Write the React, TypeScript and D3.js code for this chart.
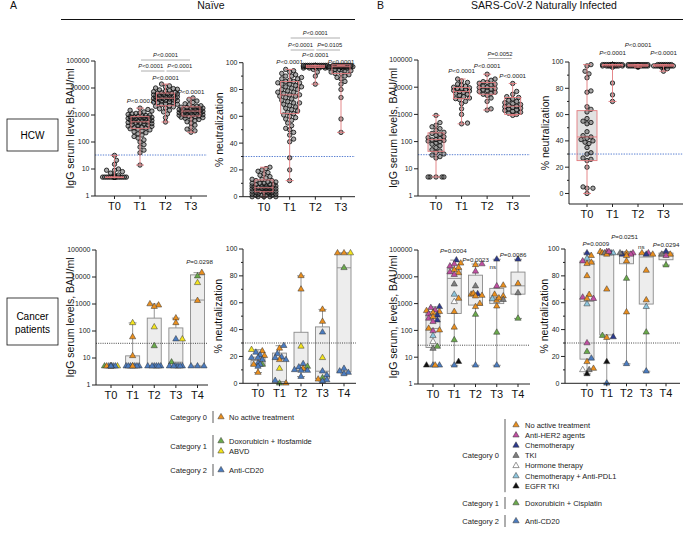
import React from 'react'
import * as d3 from 'd3'

const FONT = '"Liberation Sans", Arial, Helvetica, sans-serif'

const times4 = ['T0', 'T1', 'T2', 'T3']
const times5 = ['T0', 'T1', 'T2', 'T3', 'T4']

// ---- HCW, naive: IgG (BAU/ml)
const naiveIggT0 = [
  5, 5, 5, 5, 5, 5, 5, 5, 5, 5, 5, 5, 5, 5, 5, 5, 5, 5, 5, 5,
  5, 5, 5, 5, 5, 5, 5, 5, 5, 5, 5, 5, 5, 5, 5, 5, 5, 5, 5, 5,
  6, 6, 7, 8, 9, 9, 10, 15, 21, 32,
]
const naiveIggT1 = [
  14, 40, 50, 65, 80, 100, 120, 140, 160, 180, 200, 220, 240, 260, 280, 300, 310, 330, 340, 360,
  380, 390, 410, 430, 440, 460, 480, 500, 510, 530, 550, 560, 580, 600, 620, 640, 660, 680, 700, 710,
  730, 750, 770, 790, 800, 820, 840, 860, 880, 900, 930, 960, 1000, 1050, 1100, 1150, 1200, 1300, 1400, 1500,
  1600, 1800,
]
const naiveIggT2 = [
  550, 800, 1100, 1300, 1500, 1700, 1800, 2000, 2100, 2200, 2400, 2500, 2600, 2800, 2900, 3000, 3100, 3300, 3400, 3500,
  3600, 3700, 3800, 3900, 4000, 4100, 4200, 4300, 4400, 4500, 4600, 4700, 4800, 5000, 5100, 5300, 5400, 5600, 5800, 6000,
  6200, 6400, 6500, 6700, 7000, 7300, 7600, 8000, 8500, 9000, 9500, 10000, 11000, 12000, 14000,
]
const naiveIggT3 = [
  230, 260, 300, 350, 420, 500, 560, 620, 680, 720, 760, 800, 830, 860, 890, 920, 950, 980, 1000, 1030,
  1060, 1100, 1130, 1160, 1200, 1230, 1260, 1300, 1330, 1360, 1400, 1420, 1450, 1480, 1500, 1550, 1600, 1650, 1700, 1750,
  1800, 1850, 1900, 1950, 2000, 2100, 2200, 2400, 2600, 2900, 3300, 3800, 4300,
]
const naiveIggBox = [[5, 5, 5], [320, 560, 870], [2200, 4200, 6500], [920, 1400, 2000]]

// ---- HCW, naive: % neutralization
const naiveNeutT0 = [
  0, 0, 0, 0, 0, 1, 1, 1, 1, 2, 2, 2, 2, 3, 3, 3, 3, 4, 4, 4,
  4, 4, 5, 5, 5, 5, 5, 6, 6, 6, 6, 6, 7, 7, 7, 7, 7, 8, 8, 8,
  8, 9, 9, 9, 10, 10, 10, 11, 11, 12, 12, 13, 13, 14, 15, 16, 17, 18, 19, 20,
  21, 22,
]
const naiveNeutT1 = [
  12, 20, 29, 41, 43, 46, 48, 50, 51, 53, 55, 57, 58, 59, 60, 61, 62, 63, 64, 65,
  66, 67, 68, 69, 70, 70, 71, 72, 73, 74, 75, 75, 76, 76, 77, 78, 78, 79, 80, 80,
  81, 82, 82, 83, 84, 84, 85, 85, 86, 86, 87, 88, 88, 89, 90, 90, 91, 92, 93, 94,
  95,
]
const naiveNeutT2 = [
  84, 90, 93, 95, 96, 96, 96, 96, 97, 97, 97, 97, 97, 97, 97, 97, 97, 97,
  97, 97, 97, 97, 97, 97, 97, 97, 97, 97, 97, 97, 97, 97, 97, 97, 97, 97,
  97, 97, 97, 97, 97, 97, 97, 98, 98, 98, 98, 98, 98, 98, 98, 98, 98, 98,
  98, 98, 98, 98,
]
const naiveNeutT3 = [
  48, 58, 74, 80, 84, 86, 88, 89, 90, 91, 92, 92, 93, 94, 94, 95, 95, 96, 96, 96,
  97, 97, 97, 97, 97, 97, 97, 97, 97, 97, 97, 97, 97, 97, 97, 97, 97, 97, 97, 97,
  97, 97, 97, 97, 97, 98, 98, 98, 98, 98, 98, 98, 98, 98, 98,
]
const naiveNeutBox = [[3.7, 6.7, 12.5], [62, 76, 86], [96.5, 97, 98], [92, 97, 98.4]]

// ---- HCW, naturally infected: IgG
const infIggT0 = [
  5, 5, 5, 5, 5, 25, 28, 32, 35, 40, 45, 50, 60, 70, 80, 90, 100, 105, 110, 115,
  120, 130, 140, 150, 170, 190, 200, 220, 260, 300, 350, 400, 500, 920,
]
const infIggT1 = [
  450, 480, 1000, 1600, 2500, 3000, 3500, 3800, 4000, 4500, 5000, 5500, 6000, 6500,
  6900, 7200, 7600, 8000, 8500, 9000, 9500, 10000, 11000, 12000, 13000, 15000, 17000, 20000,
]
const infIggT2 = [
  1450, 1600, 3000, 4000, 5000, 5500, 6000, 6500, 7000, 7500, 8000, 8500,
  9000, 9800, 10000, 11000, 12000, 13000, 14000, 15000, 16000, 18000, 20000, 30000,
]
const infIggT3 = [
  920, 1000, 1100, 1200, 1300, 1400, 1500, 1600, 1700, 1800, 1900, 2000,
  2100, 2300, 2500, 2700, 3000, 3300, 3700, 4200, 4500, 5500, 7000, 13700,
]
const infIggBox = [[44, 118, 210], [3800, 6900, 9700], [5500, 9800, 14900], [1000, 2000, 4200]]

// ---- HCW, naturally infected: % neutralization
const infNeutT0 = [
  0, 4, 4, 5, 20, 25, 26, 27, 30, 31, 35, 38, 39, 40, 41, 42, 43,
  44, 47, 53, 54, 55, 57, 62, 64, 66, 77, 78, 88, 91, 93, 97, 98,
]
const infNeutT1 = [
  70, 75, 84, 96, 97, 97, 97, 97, 97, 97, 97, 97, 98, 98, 98, 98, 98, 98,
  98, 98, 98, 98, 98, 98, 98, 98, 98, 98, 98, 98, 98, 98, 98, 98, 98, 98, 98,
]
const infNeutT2 = [
  96, 97, 97, 97, 97, 97, 97, 97, 97, 97, 97, 97, 97, 97, 97, 97, 97, 97, 97,
  97, 97, 97, 97, 97, 97, 97, 98, 98, 98, 98, 98, 98, 98, 98, 98, 98, 98, 98,
]
const infNeutT3 = [
  93, 95, 96, 97, 97, 97, 97, 97, 97, 97, 97, 97, 97, 97, 97, 97, 97, 97,
  97, 97, 97, 97, 97, 97, 97, 97, 97, 97, 98, 98, 98, 98, 98, 98, 98, 98,
]
const infNeutBox = [[25, 43, 63], [97, 98, 98], [97, 97, 98], [97, 97, 98]]

// ---- Cancer patients, naive: [treatment, value]
type Pt = [string, number]
const cnIggT0: Pt[] = [['no', 5], ['abvd', 5], ['doxo', 5], ['cd20', 5], ['cd20', 5], ['cd20', 5], ['no', 5], ['abvd', 5], ['cd20', 5], ['cd20', 5]]
const cnIggT1: Pt[] = [['abvd', 200], ['no', 60], ['no', 12], ['doxo', 5], ['cd20', 5], ['cd20', 5], ['cd20', 5], ['cd20', 5], ['cd20', 5], ['cd20', 5], ['no', 5]]
const cnIggT2: Pt[] = [['no', 1000], ['no', 900], ['no', 800], ['abvd', 140], ['doxo', 28], ['cd20', 5], ['cd20', 5], ['cd20', 5], ['cd20', 5], ['cd20', 5], ['cd20', 5]]
const cnIggT3: Pt[] = [['no', 300], ['no', 200], ['cd20', 50], ['abvd', 50], ['doxo', 7], ['cd20', 5], ['cd20', 5], ['cd20', 5], ['cd20', 5], ['cd20', 5], ['cd20', 5]]
const cnIggT4: Pt[] = [['no', 14500], ['doxo', 10800], ['abvd', 6100], ['no', 1330], ['cd20', 5], ['cd20', 5], ['cd20', 5]]
const cnIggBox = [[5, 5, 5], [5, 5, 12], [5, 5, 300], [5, 7, 130], [5, 1400, 12000]]

const cnNeutT0: Pt[] = [['no', 24], ['abvd', 25], ['cd20', 23], ['cd20', 21], ['no', 20.5], ['cd20', 19], ['cd20', 19], ['cd20', 17.5], ['cd20', 15], ['doxo', 14], ['no', 14], ['cd20', 14], ['cd20', 12.5], ['no', 8]]
const cnNeutT1: Pt[] = [['no', 26], ['cd20', 28], ['cd20', 22], ['cd20', 19.5], ['no', 17.5], ['cd20', 17.5], ['cd20', 19], ['abvd', 11], ['cd20', 2], ['doxo', 0], ['no', 0]]
const cnNeutT2: Pt[] = [['no', 80], ['no', 70], ['abvd', 27.5], ['cd20', 14.5], ['cd20', 12], ['doxo', 12.5], ['no', 11], ['cd20', 10], ['cd20', 9.5], ['cd20', 9.5], ['cd20', 5]]
const cnNeutT3: Pt[] = [['no', 55], ['no', 46], ['cd20', 38], ['abvd', 19], ['cd20', 9], ['cd20', 6], ['doxo', 4], ['no', 3], ['cd20', 2.5], ['cd20', 1.5]]
const cnNeutT4: Pt[] = [['no', 97], ['abvd', 97], ['no', 97], ['doxo', 86], ['cd20', 11], ['cd20', 9], ['cd20', 8], ['cd20', 7]]
const cnNeutBox = [[13, 17, 19.5], [1.3, 18, 22.5], [9.5, 11, 38], [3.3, 9, 42], [8.5, 86, 97]]

// ---- Cancer patients, naturally infected
const ciIggT0: Pt[] = [['chemo', 760], ['her2', 700], ['no', 500], ['her2', 570], ['no', 540], ['her2', 410], ['chemo', 370], ['no', 455], ['her2', 280], ['no', 320], ['chemo', 240], ['her2', 210], ['no', 118], ['no', 102], ['her2', 95], ['pdl1', 63], ['hormone', 38], ['doxo', 25], ['tki', 21], ['cd20', 5], ['cd20', 5], ['egfr', 5], ['no', 5]]
const ciIggT1: Pt[] = [['chemo', 42000], ['no', 32000], ['her2', 30000], ['her2', 25000], ['no', 22000], ['no', 18000], ['her2', 15000], ['no', 14000], ['her2', 12000], ['tki', 5300], ['pdl1', 2200], ['no', 1550], ['hormone', 1170], ['no', 500], ['no', 130], ['doxo', 44], ['egfr', 6.8], ['cd20', 5]]
const ciIggT2: Pt[] = [['her2', 30000], ['no', 28000], ['her2', 16000], ['tki', 4500], ['chemo', 2300], ['no', 2200], ['no', 2000], ['no', 2400], ['no', 1900], ['no', 1000], ['no', 760], ['doxo', 390], ['cd20', 5]]
const ciIggT3: Pt[] = [['chemo', 45000], ['her2', 4500], ['no', 4800], ['no', 2200], ['no', 1900], ['pdl1', 1500], ['tki', 1400], ['no', 1300], ['no', 1600], ['no', 800], ['doxo', 84], ['cd20', 5]]
const ciIggT4: Pt[] = [['chemo', 45000], ['no', 5600], ['tki', 2500], ['doxo', 280]]
const ciIggBox = [[23, 118, 500], [430, 8700, 20000], [880, 2050, 11500], [1000, 1650, 3700], [2250, 4600, 15000]]

const ciNeutT0: Pt[] = [['chemo', 97], ['no', 95], ['pdl1', 93], ['her2', 91], ['no', 90], ['no', 89], ['no', 80], ['no', 66], ['her2', 64], ['no', 63], ['her2', 63], ['pdl1', 59], ['her2', 30], ['doxo', 23.5], ['cd20', 18.6], ['no', 16], ['no', 11], ['tki', 10], ['hormone', 10], ['egfr', 7]]
const ciNeutT1: Pt[] = [['her2', 98], ['no', 98], ['chemo', 97], ['no', 97], ['her2', 97], ['tki', 97], ['pdl1', 97], ['no', 96], ['her2', 98], ['no', 70], ['doxo', 35.5], ['no', 34], ['chemo', 34.5], ['egfr', 16], ['cd20', 0]]
const ciNeutT2: Pt[] = [['no', 97], ['her2', 97], ['her2', 96], ['chemo', 96], ['tki', 97], ['no', 95], ['no', 91], ['doxo', 78], ['no', 53], ['cd20', 14.5]]
const ciNeutT3: Pt[] = [['no', 97], ['her2', 97], ['chemo', 96], ['no', 96], ['no', 84], ['no', 62], ['pdl1', 57], ['doxo', 38], ['cd20', 9]]
const ciNeutT4: Pt[] = [['chemo', 98], ['no', 96], ['tki', 96], ['her2', 95], ['doxo', 88]]
const ciNeutBox = [[18, 61, 91], [36, 97, 98], [89, 96, 98], [59, 94, 97], [92, 95, 97]]

// ---- significance labels
const naiveIggNotes = [['T1', 'P<0.0001'], ['T2', 'P<0.0001'], ['T3', 'P<0.0001']]
const naiveIggBrackets = [['T1', 'T2', 'P<0.0001'], ['T2', 'T3', 'P<0.0001'], ['T1', 'T3', 'P<0.0001']]
const naiveNeutNotes = [['T1', 'P<0.0001'], ['T2', 'P<0.0001'], ['T3', 'P<0.0001']]
const naiveNeutBrackets = [['T1', 'T2', 'P<0.0001'], ['T2', 'T3', 'P=0.0105'], ['T1', 'T3', 'P<0.0001']]
const infIggNotes = [['T1', 'P<0.0001'], ['T2', 'P<0.0001'], ['T3', 'P<0.0001']]
const infIggBrackets = [['T2', 'T3', 'P=0.0052']]
const infNeutNotes = [['T1', 'P<0.0001'], ['T2', 'P<0.0001'], ['T3', 'P<0.0001']]
const cnIggNotes = [['T4', 'P=0.0298']]
const ciIggNotes = [['T1', 'P=0.0004'], ['T2', 'P=0.0023'], ['T3', 'ns'], ['T4', 'P=0.0086']]
const ciNeutNotes = [['T1', 'P=0.0009'], ['T2', 'P=0.0251'], ['T3', 'ns'], ['T4', 'P=0.0294']]

// ---- legends
const legendLeft = [
  ['Category 0', [['no', 'No active treatment']]],
  ['Category 1', [['doxo', 'Doxorubicin + Ifosfamide'], ['abvd', 'ABVD']]],
  ['Category 2', [['cd20', 'Anti-CD20']]],
] as [string, string[][]][]
const legendRight = [
  ['Category 0', [
    ['no', 'No active treatment'], ['her2', 'Anti-HER2 agents'], ['chemo', 'Chemotherapy'], ['tki', 'TKI'],
    ['hormone', 'Hormone therapy'], ['pdl1', 'Chemotherapy + Anti-PDL1'], ['egfr', 'EGFR TKI'],
  ]],
  ['Category 1', [['doxo', 'Doxorubicin + Cisplatin']]],
  ['Category 2', [['cd20', 'Anti-CD20']]],
] as [string, string[][]][]

const treatColor: Record<string, string> = {
  no: '#EA8F1E', her2: '#C04EA1', chemo: '#2C3A8E', tki: '#7E7E7E', hormone: '#FFFFFF',
  pdl1: '#8DC6DE', egfr: '#111111', doxo: '#6AAA4B', abvd: '#F3E41D', cd20: '#4B7CC0',
}

type Layout = {
  left: number; right: number; top: number; bottom: number; axisY: number
  c0: number; c1: number; titleX: number; boxHalf: number; spread: number
  noteY: number[]; noteDx: number[]; bracketY: number[]; bracketDx: number[]
}

function swarm(ys: number[], r: number, maxHalf: number): number[] {
  const order = d3.range(ys.length).sort((a, b) => ys[b] - ys[a])
  const placed: { x: number; y: number }[] = []
  const out: number[] = ys.map(() => 0)
  const step = r * 0.9
  const need = 2 * r * 2 * r * 0.85
  for (const i of order) {
    const y = ys[i]
    let best = 0
    let bestScore = -1
    let found = false
    for (let k = 0; k * step <= maxHalf && !found; k++) {
      const opts = k === 0 ? [0] : [k * step, -k * step]
      for (const dx of opts) {
        let minD = Infinity
        for (const p of placed) {
          const dy = p.y - y
          if (Math.abs(dy) >= 2 * r) continue
          minD = Math.min(minD, (p.x - dx) ** 2 + dy * dy)
        }
        if (minD >= need) { best = dx; found = true; break }
        if (minD > bestScore) { bestScore = minD; best = dx }
      }
    }
    placed.push({ x: best, y })
    out[i] = best
  }
  return out
}

function PText({ x, y, text, size = 6.2 }: { x: number; y: number; text: string; size?: number }) {
  const italic = text.startsWith('P')
  return (
    <text x={x} y={y} fontSize={size} textAnchor="middle" fill="#222">
      {italic ? <><tspan fontStyle="italic">P</tspan>{text.slice(1)}</> : text}
    </text>
  )
}

type PanelProps = {
  lay: Layout; cats: string[]; log: boolean; domain: [number, number]; title: string
  refValue: number; hcw: boolean; groups: Pt[][]; boxes: number[][]
  notes?: string[][]; brackets?: string[][]
}

function BoxLines({ cx, half, y, box, lo, hi, col }: any) {
  const [q1, med, q3] = box
  const cap = 4
  return (
    <g stroke={col} strokeWidth={0.9} fill="none">
      <rect x={cx - half} width={half * 2} y={y(q3)} height={Math.max(0.5, y(q1) - y(q3))} />
      <line x1={cx - half} x2={cx + half} y1={y(med)} y2={y(med)} />
      <line x1={cx} x2={cx} y1={y(q3)} y2={y(hi)} />
      <line x1={cx} x2={cx} y1={y(q1)} y2={y(lo)} />
      <line x1={cx - cap} x2={cx + cap} y1={y(hi)} y2={y(hi)} />
      <line x1={cx - cap} x2={cx + cap} y1={y(lo)} y2={y(lo)} />
    </g>
  )
}

function Panel({ lay, cats, log, domain, title, refValue, hcw, groups, boxes, notes = [], brackets = [] }: PanelProps) {
  const y = (log ? d3.scaleLog() : d3.scaleLinear()).domain(domain).range([lay.bottom, lay.top])
  const x = d3.scalePoint<string>().domain(cats).range([lay.c0, lay.c1])
  const ticks = log ? [1, 10, 100, 1000, 10000, 100000] : [0, 20, 40, 60, 80, 100]
  const minor = log ? [] : [10, 30, 50, 70, 90]
  const lineCol = hcw ? '#E27A7E' : '#8a8a8a'
  const boxFill = hcw ? '#E2E2E2' : '#EDEDED'
  const r = hcw ? 2.2 : 2.4
  const tri = d3.symbol(d3.symbolTriangle, 17)()
  const midY = (lay.top + lay.bottom) / 2

  const boxLines = groups.map((g, i) => {
    const vals = g.map(d => d[1])
    return (
      <BoxLines key={'w' + i} cx={x(cats[i])} half={lay.boxHalf} y={y} box={boxes[i]}
        lo={d3.min(vals)} hi={d3.max(vals)} col={lineCol} />
    )
  })

  return (
    <g>
      {groups.map((g, i) => {
        const cx = x(cats[i])!
        const [q1, , q3] = boxes[i]
        return (
          <rect key={'b' + i} x={cx - lay.boxHalf} width={lay.boxHalf * 2}
            y={y(q3)} height={Math.max(0.5, y(q1) - y(q3))} fill={boxFill} />
        )
      })}
      {!hcw && boxLines}
      <line x1={lay.left} x2={lay.right} y1={y(refValue)} y2={y(refValue)}
        stroke={hcw ? '#5B80D2' : '#333'} strokeWidth={hcw ? 1 : 0.9} strokeDasharray={hcw ? '1.4 1.2' : '1 1.2'} />
      {groups.map((g, i) => {
        const cx = x(cats[i])!
        const ys = g.map(d => y(d[1]))
        const dxs = swarm(ys, r, lay.spread)
        return (
          <g key={'p' + i}>
            {g.map((d, j) => hcw ? (
              <circle key={j} cx={cx + dxs[j]} cy={ys[j]} r={r} fill="#555" fillOpacity={0.5} stroke="#0a0a0a" strokeWidth={0.8} />
            ) : (
              <path key={j} d={tri!} transform={`translate(${cx + dxs[j]},${ys[j]})`} fill={treatColor[d[0]]} stroke="#333" strokeWidth={0.5} />
            ))}
          </g>
        )
      })}
      {hcw && boxLines}
      <g stroke="#222" strokeWidth={1} fill="none">
        <line x1={lay.left} x2={lay.left} y1={lay.top} y2={lay.axisY} />
        <line x1={lay.left} x2={lay.right} y1={lay.axisY} y2={lay.axisY} />
        {ticks.map(t => <line key={t} x1={lay.left - 4} x2={lay.left} y1={y(t)} y2={y(t)} />)}
        {minor.map(t => <line key={t} x1={lay.left - 2} x2={lay.left} y1={y(t)} y2={y(t)} />)}
        {cats.map(c => <line key={c} x1={x(c)} x2={x(c)} y1={lay.axisY} y2={lay.axisY + 3} />)}
      </g>
      {ticks.map(t => (
        <text key={t} x={lay.left - 5.5} y={y(t)} dy="0.35em" fontSize={7} textAnchor="end" fill="#222">{t}</text>
      ))}
      {cats.map(c => (
        <text key={c} x={x(c)} y={lay.axisY + 14} fontSize={11} textAnchor="middle" fill="#111">{c}</text>
      ))}
      <text transform={`translate(${lay.titleX},${midY}) rotate(-90)`} fontSize={10.5} textAnchor="middle" fill="#111">{title}</text>
      {notes.map((n, i) => <PText key={'n' + i} x={x(n[0])! + (lay.noteDx[i] || 0)} y={lay.noteY[i]} text={n[1]} />)}
      {brackets.map((b, i) => {
        const x1 = x(b[0])! + 1, x2 = x(b[1])! - 1
        return (
          <g key={'k' + i}>
            <line x1={x1} x2={x2} y1={lay.bracketY[i]} y2={lay.bracketY[i]} stroke="#999" strokeWidth={0.8} />
            <PText x={(x1 + x2) / 2 + (lay.bracketDx[i] || 0)} y={lay.bracketY[i] - 3} text={b[2]} size={5.8} />
          </g>
        )
      })}
    </g>
  )
}

const hcwPts = (a: number[]): Pt[] => a.map(v => ['hcw', v] as Pt)

function Legend({ items, labelRight, bar, triX, textX, groupY }: {
  items: [string, string[][]][]; labelRight: number; bar: number; triX: number; textX: number; groupY: number[]
}) {
  const tri = d3.symbol(d3.symbolTriangle, 17)()
  const step = 10.2
  return (
    <g fontSize={7.5} fill="#222">
      {items.map(([cat, rows], gi) => {
        const y0 = groupY[gi]
        const yMid = y0 + (step * (rows.length - 1)) / 2
        return (
          <g key={cat}>
            <text x={labelRight} y={yMid} dy="0.35em" textAnchor="end">{cat}</text>
            <line x1={bar} x2={bar} y1={y0 - 6} y2={y0 + step * (rows.length - 1) + 6} stroke="#333" strokeWidth={0.8} />
            {rows.map(([code, label], ri) => (
              <g key={label}>
                <path d={tri!} transform={`translate(${triX},${y0 + ri * step})`} fill={treatColor[code]} stroke="#333" strokeWidth={0.5} />
                <text x={textX} y={y0 + ri * step} dy="0.35em">{label}</text>
              </g>
            ))}
          </g>
        )
      })}
    </g>
  )
}

const layA1: Layout = { left: 95, right: 207, top: 61, bottom: 196, axisY: 196, c0: 114.5, c1: 191, titleX: 74, boxHalf: 9, spread: 12, noteY: [103, 79.5, 94], noteDx: [], bracketY: [71, 71, 60], bracketDx: [-2, 1.5, 0] }
const layA2: Layout = { left: 243, right: 355, top: 62.7, bottom: 196.7, axisY: 196.7, c0: 264, c1: 341, titleX: 223, boxHalf: 9, spread: 12, noteY: [64, 56.5, 64], noteDx: [], bracketY: [50, 50, 38], bracketDx: [-2, 1.5, 0] }
const layB1: Layout = { left: 418, right: 530, top: 60, bottom: 196, axisY: 196, c0: 436, c1: 512.7, titleX: 397, boxHalf: 8, spread: 8, noteY: [73, 67.5, 78], noteDx: [], bracketY: [58.5], bracketDx: [] }
const layB2: Layout = { left: 569, right: 683, top: 62, bottom: 204, axisY: 204, c0: 587, c1: 663.5, titleX: 549, boxHalf: 10, spread: 11, noteY: [55, 47, 55], noteDx: [], bracketY: [], bracketDx: [] }
const layA3: Layout = { left: 96, right: 208, top: 250, bottom: 385, axisY: 385, c0: 111, c1: 197.5, titleX: 74, boxHalf: 7, spread: 8, noteY: [264], noteDx: [2], bracketY: [], bracketDx: [] }
const layA4: Layout = { left: 243, right: 356, top: 249, bottom: 383.3, axisY: 383.3, c0: 258, c1: 344, titleX: 222, boxHalf: 7, spread: 7, noteY: [], noteDx: [], bracketY: [], bracketDx: [] }
const layB3: Layout = { left: 418, right: 530, top: 250, bottom: 384, axisY: 384, c0: 433, c1: 518, titleX: 397, boxHalf: 7, spread: 7, noteY: [253, 261.5, 268.5, 256.5], noteDx: [-1, 0, -4, -5], bracketY: [], bracketDx: [] }
const layB4: Layout = { left: 565, right: 680, top: 249, bottom: 383.3, axisY: 383.3, c0: 587, c1: 666, titleX: 548, boxHalf: 7, spread: 7, noteY: [246, 238.5, 248.5, 246.5], noteDx: [-11, -2, -5, 0], bracketY: [], bracketDx: [] }

export default function App() {
  return (
    <svg width={683} height={538} style={{ position: 'absolute', left: 0, top: 0, background: '#fff' }} fontFamily={FONT}>
      <rect width={683} height={538} fill="#fff" />
      <text x={10} y={9} fontSize={10.5} fill="#111">A</text>
      <text x={211} y={9} fontSize={10.5} textAnchor="middle" fill="#111">Naïve</text>
      <line x1={61} x2={355} y1={19.5} y2={19.5} stroke="#111" strokeWidth={1} />
      <text x={377} y={9} fontSize={10.5} fill="#111">B</text>
      <text x={544} y={9} fontSize={10.5} textAnchor="middle" fill="#111">SARS-CoV-2 Naturally Infected</text>
      <line x1={390} x2={683} y1={19.5} y2={19.5} stroke="#111" strokeWidth={1} />

      <rect x={7} y={119} width={51} height={32} fill="none" stroke="#111" strokeWidth={0.8} />
      <text x={32.5} y={135} dy="0.35em" fontSize={10} textAnchor="middle">HCW</text>
      <rect x={7} y={298} width={51} height={47} fill="none" stroke="#111" strokeWidth={0.8} />
      <text x={32.5} y={316} dy="0.35em" fontSize={10} textAnchor="middle">Cancer</text>
      <text x={32.5} y={329} dy="0.35em" fontSize={10} textAnchor="middle">patients</text>

      <Panel lay={layA1} cats={times4} log domain={[1, 100000]} title="IgG serum levels, BAU/ml" refValue={33} hcw
        groups={[naiveIggT0, naiveIggT1, naiveIggT2, naiveIggT3].map(hcwPts)} boxes={naiveIggBox}
        notes={naiveIggNotes} brackets={naiveIggBrackets} />
      <Panel lay={layA2} cats={times4} log={false} domain={[0, 100]} title="% neutralization" refValue={30} hcw
        groups={[naiveNeutT0, naiveNeutT1, naiveNeutT2, naiveNeutT3].map(hcwPts)} boxes={naiveNeutBox}
        notes={naiveNeutNotes} brackets={naiveNeutBrackets} />
      <Panel lay={layB1} cats={times4} log domain={[1, 100000]} title="IgG serum levels, BAU/ml" refValue={33} hcw
        groups={[infIggT0, infIggT1, infIggT2, infIggT3].map(hcwPts)} boxes={infIggBox}
        notes={infIggNotes} brackets={infIggBrackets} />
      <Panel lay={layB2} cats={times4} log={false} domain={[-8, 100]} title="% neutralization" refValue={30} hcw
        groups={[infNeutT0, infNeutT1, infNeutT2, infNeutT3].map(hcwPts)} boxes={infNeutBox}
        notes={infNeutNotes} />

      <Panel lay={layA3} cats={times5} log domain={[1, 100000]} title="IgG serum levels, BAU/ml" refValue={35} hcw={false}
        groups={[cnIggT0, cnIggT1, cnIggT2, cnIggT3, cnIggT4]} boxes={cnIggBox} notes={cnIggNotes} />
      <Panel lay={layA4} cats={times5} log={false} domain={[0, 100]} title="% neutralization" refValue={30} hcw={false}
        groups={[cnNeutT0, cnNeutT1, cnNeutT2, cnNeutT3, cnNeutT4]} boxes={cnNeutBox} />
      <Panel lay={layB3} cats={times5} log domain={[1, 100000]} title="IgG serum, levels, BAU/ml" refValue={28} hcw={false}
        groups={[ciIggT0, ciIggT1, ciIggT2, ciIggT3, ciIggT4]} boxes={ciIggBox} notes={ciIggNotes} />
      <Panel lay={layB4} cats={times5} log={false} domain={[0, 100]} title="% neutralization" refValue={30} hcw={false}
        groups={[ciNeutT0, ciNeutT1, ciNeutT2, ciNeutT3, ciNeutT4]} boxes={ciNeutBox} notes={ciNeutNotes} />

      <Legend items={legendLeft} labelRight={207} bar={213} triX={221} textX={229} groupY={[417, 441, 470]} />
      <Legend items={legendRight} labelRight={499} bar={505} triX={516} textX={525} groupY={[425, 503, 521]} />
    </svg>
  )
}
